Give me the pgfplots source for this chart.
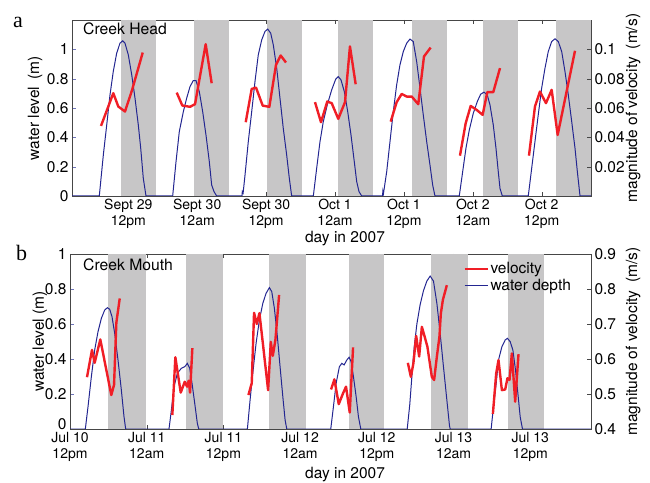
\documentclass[border=0pt]{standalone}
\usepackage{pgfplots}
\pgfplotsset{compat=1.18}
\usepackage{fontspec}
\setmainfont{TeX Gyre Heros}
\newfontfamily\serifletter{Liberation Serif}
\definecolor{bandgray}{RGB}{199,198,199}
\definecolor{depthblue}{RGB}{35,38,145}
\definecolor{velred}{RGB}{240,30,38}
\definecolor{tickblue}{RGB}{110,115,185}
\definecolor{axgray}{RGB}{70,70,70}
\newcommand{\labfont}{\fontsize{15.5bp}{17bp}\selectfont}
\pgfplotsset{
  base/.style={scale only axis, axis line style={axgray}, tick style={axgray},
    major tick length=4bp,
    every tick label/.append style={font=\labfont, text=black},
    xticklabel style={font=\fontsize{14bp}{16bp}\selectfont, align=center}},
  band/.style={fill=bandgray, draw=none, forget plot},
  depth/.style={depthblue, line width=1bp, forget plot},
  vel/.style={velred, line width=2.4bp, line join=round, forget plot},
}
\begin{document}
\begin{tikzpicture}
\path[use as bounding box] (0,0) rectangle (650bp,483bp);
% ================= panel a: Creek Head =================
\begin{axis}[base, at={(72bp,287bp)}, anchor=south west, width=519bp, height=176bp,
  xmin=2.19, xmax=92.30, ymin=0, ymax=1.2,
  xtick={11.97,23.93,35.89,47.85,59.82,71.78,83.74},
  xticklabels={{Sept 29\\12pm},{Sept 30\\12am},{Sept 30\\12pm},{Oct 1\\12am},{Oct 1\\12pm},{Oct 2\\12am},{Oct 2\\12pm}},
  ytick={0,0.2,0.4,0.6,0.8,1}, yticklabels={0,0.2,0.4,0.6,0.8,1},
  xtick pos=both, ytick pos=left, ytick style={tickblue},
  ylabel={water level\enspace(m)},
  every axis y label/.style={at={(axis description cs:-0.071,0.5)}, rotate=90, anchor=center, font=\labfont},
  xlabel={day in 2007},
  every axis x label/.style={at={(axis description cs:0.526,-0.239)}, anchor=center, font=\labfont},
]
\addplot[band] coordinates {(10.70,1.2) (16.77,1.2)} \closedcycle;
\addplot[band] coordinates {(23.42,1.2) (29.45,1.2)} \closedcycle;
\addplot[band] coordinates {(36.10,1.2) (42.12,1.2)} \closedcycle;
\addplot[band] coordinates {(48.42,1.2) (54.40,1.2)} \closedcycle;
\addplot[band] coordinates {(61.27,1.2) (67.24,1.2)} \closedcycle;
\addplot[band] coordinates {(73.60,1.2) (79.67,1.2)} \closedcycle;
\addplot[band] coordinates {(86.22,1.2) (92.30,1.2)} \closedcycle;
\addplot[depth] coordinates {
(2.19,0)
(6.93,0) (7.63,0.28) (8.22,0.485) (8.79,0.69) (9.36,0.85) (9.95,0.974) (10.52,1.042) (10.99,1.058) (11.39,1.042) (11.97,0.962) (12.56,0.826) (13.13,0.667) (13.70,0.485) (14.12,0.326) (14.57,0.12) (15.04,0)
(19.67,0) (20.25,0.234) (20.82,0.439) (21.52,0.575) (22.10,0.667) (22.68,0.746) (23.25,0.787) (23.72,0.787) (24.29,0.712) (24.88,0.575) (25.45,0.416) (26.03,0.234) (26.44,0.075) (26.84,0.03) (27.31,0)
(31.70,0) (31.76,0.03) (31.90,0.02) (32.23,0.143) (32.80,0.371) (33.39,0.575) (33.96,0.78) (34.53,0.962) (35.13,1.065) (35.70,1.122) (36.17,1.138) (36.69,1.11) (37.14,1.03) (37.73,0.872) (38.30,0.667) (38.87,0.462) (39.46,0.28) (39.92,0.121) (40.33,0)
(44.09,0) (44.67,0.189) (45.25,0.371) (45.82,0.507) (46.51,0.621) (47.28,0.724) (47.97,0.796) (48.42,0.814) (48.89,0.792) (49.47,0.712) (50.06,0.575) (50.63,0.416) (51.20,0.234) (51.62,0.098) (52.02,0.03) (52.49,0)
(56.10,0) (56.16,0.03) (56.24,0.01) (56.83,0.166) (57.40,0.371) (57.97,0.575) (58.56,0.758) (59.13,0.894) (59.71,0.985) (60.30,1.042) (60.87,1.07) (61.44,1.053) (62.03,0.917) (62.61,0.735) (63.18,0.553) (63.77,0.371) (64.34,0.212) (64.81,0.075) (65.21,0)
(69.43,0) (70.02,0.166) (70.59,0.326) (71.17,0.45) (71.86,0.564) (72.56,0.644) (73.14,0.694) (73.72,0.708) (74.29,0.689) (74.76,0.621) (75.33,0.485) (75.80,0.326) (76.20,0.166) (76.50,0.052) (76.90,0)
(81.41,0) (82.00,0.189) (82.57,0.371) (83.14,0.553) (83.73,0.735) (84.31,0.871) (84.88,0.985) (85.47,1.053) (86.05,1.072) (86.62,1.053) (87.21,0.985) (87.78,0.849) (88.36,0.689) (88.95,0.507) (89.52,0.326) (89.93,0.166) (90.39,0)
(92.30,0)
};
\end{axis}
\begin{axis}[base, at={(72bp,287bp)}, anchor=south west, width=519bp, height=176bp,
  xmin=2.19, xmax=92.30, ymin=0, ymax=0.12,
  axis y line*=right, axis x line=none,
  ytick={0.02,0.04,0.06,0.08,0.1}, yticklabels={0.02,0.04,0.06,0.08,0.1},
  ylabel={magnitude of velocity\enspace(m/s)},
  every axis y label/.style={at={(axis description cs:1.081,0.5)}, rotate=90, anchor=center, font=\labfont},
]
\addplot[vel] coordinates {(7.23,0.0478) (9.36,0.0701) (10.23,0.061) (11.39,0.0576) (12.6,0.072) (14.47,0.0978)};
\addplot[vel] coordinates {(20.37,0.0705) (21.34,0.0617) (22.68,0.0608) (23.55,0.0626) (25.40,0.1035) (26.44,0.0769)};
\addplot[vel] coordinates {(32.35,0.0503) (33.39,0.073) (34.14,0.0739) (35.30,0.0616) (36.45,0.0608) (37.61,0.0894) (38.42,0.0958) (39.34,0.091)};
\addplot[vel] coordinates {(44.38,0.064) (45.42,0.0503) (46.51,0.0644) (47.28,0.0633) (48.42,0.0526) (49.59,0.064) (50.45,0.102) (51.44,0.0762)};
\addplot[vel] coordinates {(57.52,0.0507) (58.56,0.064) (59.43,0.0696) (60.30,0.0678) (61.17,0.0678) (62.31,0.0626) (63.30,0.0951) (64.46,0.1012)};
\addplot[vel] coordinates {(69.55,0.0275) (70.54,0.0496) (71.41,0.0614) (72.45,0.0587) (73.49,0.0553) (74.29,0.0708) (75.33,0.0708) (76.50,0.0872)};
\addplot[vel] coordinates {(81.53,0.0275) (82.57,0.061) (83.44,0.0712) (84.48,0.0633) (85.47,0.0724) (86.51,0.0416) (89.52,0.099)};
\end{axis}
% ================= panel b: Creek Mouth =================
\begin{axis}[base, at={(70bp,54bp)}, anchor=south west, width=521bp, height=175bp,
  xmin=12, xmax=93.5, ymin=0, ymax=1,
  xtick={12,24,36,48,60,72,84},
  xticklabels={{Jul 10\\12pm},{Jul 11\\12am},{Jul 11\\12pm},{Jul 12\\12am},{Jul 12\\12pm},{Jul 13\\12am},{Jul 13\\12pm}},
  ytick={0,0.2,0.4,0.6,0.8,1}, yticklabels={\raisebox{0bp}[0bp][0bp]{0},0.2,0.4,0.6,0.8,1},
  xtick pos=both, ytick pos=left, ytick style={tickblue},
  ylabel={water level (m)},
  every axis y label/.style={at={(axis description cs:-0.058,0.5)}, rotate=90, anchor=center, font=\labfont},
  xlabel={day in 2007},
  every axis x label/.style={at={(axis description cs:0.528,-0.263)}, anchor=center, font=\labfont},
]
\addplot[band] coordinates {(18.00,1) (23.85,1)} \closedcycle;
\addplot[band] coordinates {(30.15,1) (35.90,1)} \closedcycle;
\addplot[band] coordinates {(43.20,1) (48.90,1)} \closedcycle;
\addplot[band] coordinates {(55.70,1) (61.10,1)} \closedcycle;
\addplot[band] coordinates {(68.50,1) (74.20,1)} \closedcycle;
\addplot[band] coordinates {(80.50,1) (86.20,1)} \closedcycle;
\addplot[depth] coordinates {
(12,0)
(14.40,0) (14.82,0.128) (15.34,0.299) (15.86,0.451) (16.38,0.556) (16.90,0.632) (17.43,0.68) (17.84,0.693) (18.21,0.684) (18.57,0.642) (18.99,0.547) (19.51,0.394) (20.03,0.223) (20.45,0.07) (20.71,0)
(27.49,0) (27.86,0.109) (28.28,0.242) (28.79,0.318) (29.42,0.347) (29.95,0.356) (30.36,0.375) (30.73,0.347) (31.09,0.261) (31.51,0.147) (31.92,0.032) (32.14,0)
(39.75,0) (40.17,0.166) (40.59,0.318) (41.11,0.49) (41.63,0.623) (42.16,0.718) (42.67,0.775) (43.19,0.808) (43.56,0.785) (43.97,0.69) (44.44,0.528) (44.86,0.356) (45.29,0.185) (45.65,0.051) (45.91,0)
(52.79,0) (53.21,0.128) (53.63,0.261) (54.14,0.356) (54.52,0.375) (54.88,0.366) (55.30,0.394) (55.66,0.41) (55.97,0.385) (56.34,0.299) (56.76,0.185) (57.12,0.07) (57.49,0)
(64.75,0) (65.15,0.14) (65.50,0.31) (65.85,0.47) (66.26,0.60) (66.77,0.71) (67.29,0.79) (67.82,0.845) (68.34,0.874) (68.86,0.845) (69.39,0.718) (69.90,0.547) (70.42,0.356) (70.95,0.166) (71.36,0.02) (71.47,0)
(77.88,0) (78.24,0.128) (78.67,0.261) (79.03,0.394) (79.56,0.47) (80.08,0.509) (80.43,0.518) (80.86,0.499) (81.28,0.451) (81.69,0.337) (82.06,0.204) (82.42,0.07) (82.78,0)
(93.5,0)
};
\end{axis}
\begin{axis}[base, at={(70bp,54bp)}, anchor=south west, width=521bp, height=175bp,
  xmin=12, xmax=93.5, ymin=0.4, ymax=0.9,
  axis y line*=right, axis x line=none,
  ytick={0.4,0.5,0.6,0.7,0.8,0.9}, yticklabels={0.4,0.5,0.6,0.7,0.8,0.9},
  ylabel={magnitude of velocity\enspace(m/s)},
  every axis y label/.style={at={(axis description cs:1.081,0.5)}, rotate=90, anchor=center, font=\labfont},
  legend style={at={(axis description cs:0.749,0.973)}, anchor=north west, draw=none, fill=none,
    font=\labfont, nodes={inner sep=1.7bp}},
  legend cell align=left,
  legend image code/.code={\draw[#1] (0bp,0bp) -- (23bp,0bp);},
]
\addlegendimage{velred, line width=2.4bp}\addlegendentry{velocity}
\addlegendimage{depthblue, line width=1bp}\addlegendentry{water depth}
\addplot[vel] coordinates {(14.66,0.548) (15.44,0.626) (15.86,0.589) (16.74,0.656) (18.46,0.497) (18.89,0.526) (19.25,0.704) (19.78,0.773)};
\addplot[vel] coordinates {(28.01,0.44) (28.48,0.605) (29.32,0.504) (29.95,0.535) (30.31,0.521) (30.57,0.538) (30.78,0.504) (31.14,0.631)};
\addplot[vel] coordinates {(39.91,0.497) (40.43,0.531) (40.79,0.732) (41.22,0.70) (41.63,0.731) (42.05,0.664) (42.99,0.511) (43.41,0.649) (43.72,0.609) (44.13,0.654) (44.71,0.783)};
\addplot[vel] coordinates {(52.84,0.513) (53.36,0.542) (54.04,0.471) (54.71,0.502) (55.18,0.521) (55.76,0.447) (56.28,0.633)};
\addplot[vel] coordinates {(64.85,0.589) (65.32,0.549) (65.72,0.588) (66.15,0.666) (66.62,0.607) (67.04,0.692) (67.40,0.669) (67.91,0.635) (68.60,0.549) (68.96,0.54) (69.39,0.607) (69.79,0.664) (70.01,0.73) (70.33,0.769) (70.95,0.811)};
\addplot[vel] coordinates {(78.15,0.443) (78.67,0.559) (79.03,0.597) (79.56,0.511) (80.08,0.513) (80.43,0.545) (80.75,0.54) (81.12,0.616) (81.64,0.478) (82.16,0.614)};
\end{axis}
% panel letters and titles
\node[anchor=base west, font=\serifletter\fontsize{22bp}{22bp}\selectfont, inner sep=0pt] at (13bp,455bp) {a};
\node[anchor=base west, font=\serifletter\fontsize{22bp}{22bp}\selectfont, inner sep=0pt] at (16bp,222bp) {b};
\node[anchor=base west, font=\fontsize{15.7bp}{17bp}\selectfont, inner sep=0pt] at (83bp,448bp) {Creek Head};
\node[anchor=base west, font=\fontsize{15.7bp}{17bp}\selectfont, inner sep=0pt] at (83bp,212.5bp) {Creek Mouth};
\end{tikzpicture}
\end{document}
